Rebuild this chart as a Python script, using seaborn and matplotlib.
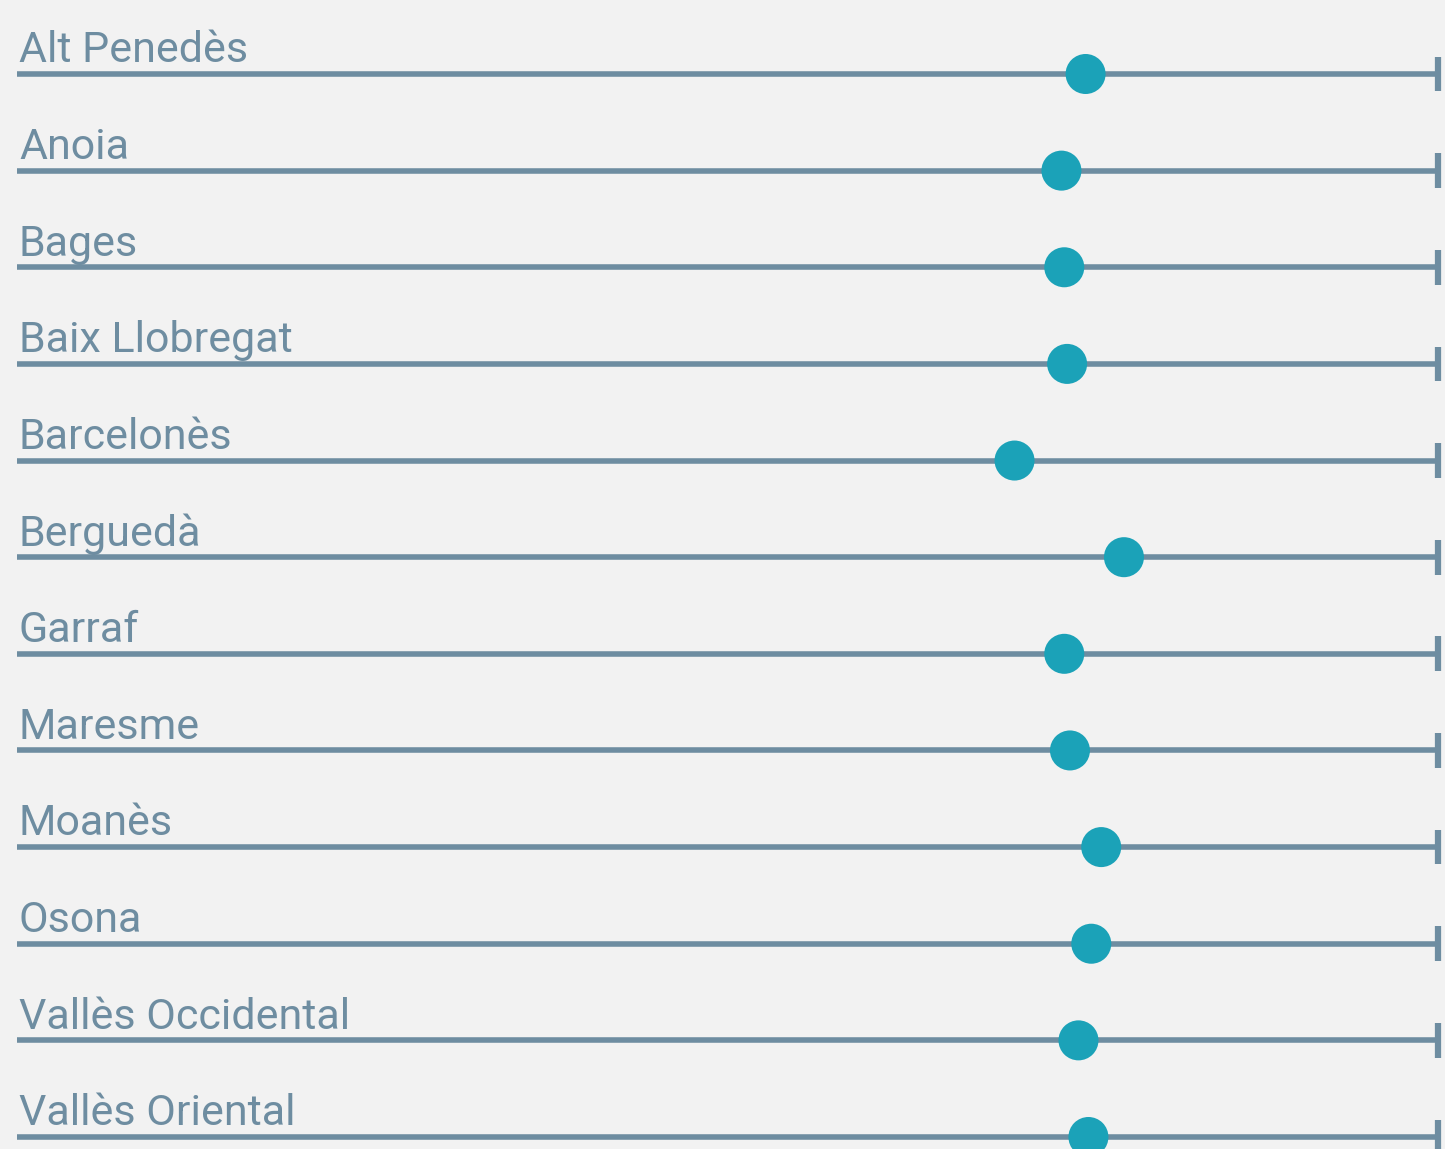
import pandas as pd
import matplotlib.pyplot as plt
import seaborn as sns

# Valors per comarca (escala 0-100)
comarques = ['Alt Penedès', 'Anoia', 'Bages', 'Baix Llobregat', 'Barcelonès', 'Berguedà',
             'Garraf', 'Maresme', 'Moanès', 'Osona', 'Vallès Occidental', 'Vallès Oriental']
valors = [75.2, 73.5, 73.7, 73.9, 70.2, 77.9, 73.7, 74.1, 76.3, 75.6, 74.7, 75.4]
maxim = 100

df = pd.DataFrame({'comarca': comarques, 'valor': valors})
df['pos'] = range(len(df))

fons = '#f2f2f2'
gris = '#6e8da1'
blau = '#1ba2b8'

sns.set_style('white')
plt.rcParams['font.family'] = ['Roboto', 'DejaVu Sans']

fig = plt.figure(figsize=(14.45, 11.49), dpi=100, facecolor=fons)
ax = fig.add_axes([0, 0, 1, 1], facecolor=fons)

# línies de fons i marca final
ax.hlines(df['pos'], 0, maxim, color=gris, lw=4, zorder=1)
ax.vlines([maxim] * len(df), df['pos'] - 0.18, df['pos'] + 0.18, color=gris, lw=4.5, zorder=1)

sns.scatterplot(data=df, x='valor', y='pos', color=blau, s=830, edgecolor='none', zorder=3, ax=ax)

for i, nom in enumerate(comarques):
    ax.text(0.14, i - 0.12, nom, fontsize=31, color=gris, va='baseline', ha='left')

ax.set_xlim(-17 / 14.21, maxim + 7 / 14.21)
ax.set_ylim(11 + 12 / 96.64, -74 / 96.64)
ax.axis('off')

fig.savefig('out.png', dpi=100, facecolor=fons)
